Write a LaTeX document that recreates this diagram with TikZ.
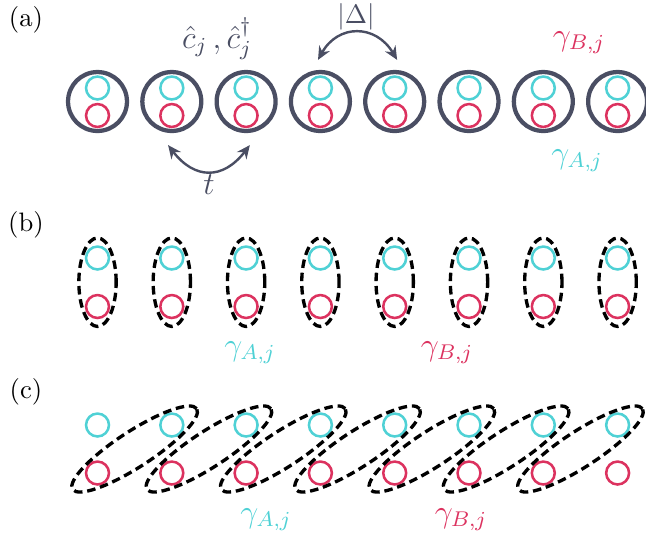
\documentclass[tikz,border=0pt]{standalone}
\usetikzlibrary{shapes.geometric,calc,arrows.meta}
\definecolor{cgray}{HTML}{4A4E63}
\definecolor{ccyan}{HTML}{4FD1D5}
\definecolor{cred}{HTML}{DC325F}
\begin{document}
\begin{tikzpicture}[x=0.375pt,y=-0.375pt,
 site/.style={circle,draw=cgray,line width=1.6pt,minimum size=22.1pt,inner sep=0pt},
 majA/.style={circle,draw=ccyan,line width=0.95pt,minimum size=8.6pt,inner sep=0pt},
 majB/.style={circle,draw=cred,line width=0.95pt,minimum size=8.6pt,inner sep=0pt},
 pairbox/.style={ellipse,draw=black,line width=1.25pt,dash pattern=on 3.2pt off 1.8pt,inner sep=0pt},
 hop/.style={draw=cgray,line width=0.9pt,{Stealth[length=5pt,width=4.5pt]}-{Stealth[length=5pt,width=4.5pt]}},
 lab/.style={anchor=base,inner sep=0pt},
 biglab/.style={font=\large,anchor=base,inner sep=0pt}]
\useasboundingbox (0,0) rectangle (646,533);
\foreach \i/\x in {1/97.5,2/171.8,3/246.1,4/320.4,5/394.7,6/469,7/543.3,8/617.6}{
 \node[site] (s\i) at (\x,101.5) {};
 \node[majA] (a\i) at (\x,88) {};
 \node[majB] (b\i) at (\x,115.5) {};
 \node[majA] (ba\i) at (\x,258) {};
 \node[majB] (bb\i) at (\x,306.5) {};
 \node[pairbox,minimum width=14pt,minimum height=33.2pt] (be\i) at (\x,282.2) {};
 \node[majA] (ca\i) at (\x,425) {};
 \node[majB] (cb\i) at (\x,473) {};
}
\foreach \i/\j in {1/2,2/3,3/4,4/5,5/6,6/7,7/8}{
 \node[pairbox,rotate=33,minimum width=55.5pt,minimum height=13.4pt] (ce\i) at ($(cb\i)!0.5!(ca\j)$) {};
}
% hopping arrows
\draw[hop] ([xshift=-0.9pt,yshift=3.75pt]s4.north) .. controls +(7.5pt,13.5pt) and +(-8pt,13.5pt) .. ([xshift=0.9pt,yshift=3.75pt]s5.north);
\draw[hop] ([xshift=-1.4pt,yshift=-4.5pt]s2.south) .. controls +(10pt,-13pt) and +(-10pt,-13pt) .. ([xshift=1.4pt,yshift=-4.5pt]s3.south);
% labels
\node[lab] (pa) at (26,26) {(a)};
\node[lab] (pb) at (26,231) {(b)};
\node[lab] (pc) at (26,398) {(c)};
\node[biglab,text=cgray] (lc) at (217,48) {$\hat{c}_j\,,\hat{c}_j^\dagger$};
\node[lab,text=cgray] (ld) at (356,23.5) {$|\Delta|$};
\node[biglab,text=cgray] (lt) at (209,194) {$t$};
\node[biglab,text=cred] (lgb) at (579,45) {$\gamma_{B,j}$};
\node[biglab,text=ccyan] (lga) at (577,163) {$\gamma_{A,j}$};
\node[biglab,text=ccyan] (lgab) at (250,355) {$\gamma_{A,j}$};
\node[biglab,text=cred] (lgbb) at (447,355) {$\gamma_{B,j}$};
\node[biglab,text=ccyan] (lgac) at (266,522) {$\gamma_{A,j}$};
\node[biglab,text=cred] (lgbc) at (461,522) {$\gamma_{B,j}$};
\end{tikzpicture}
\end{document}
